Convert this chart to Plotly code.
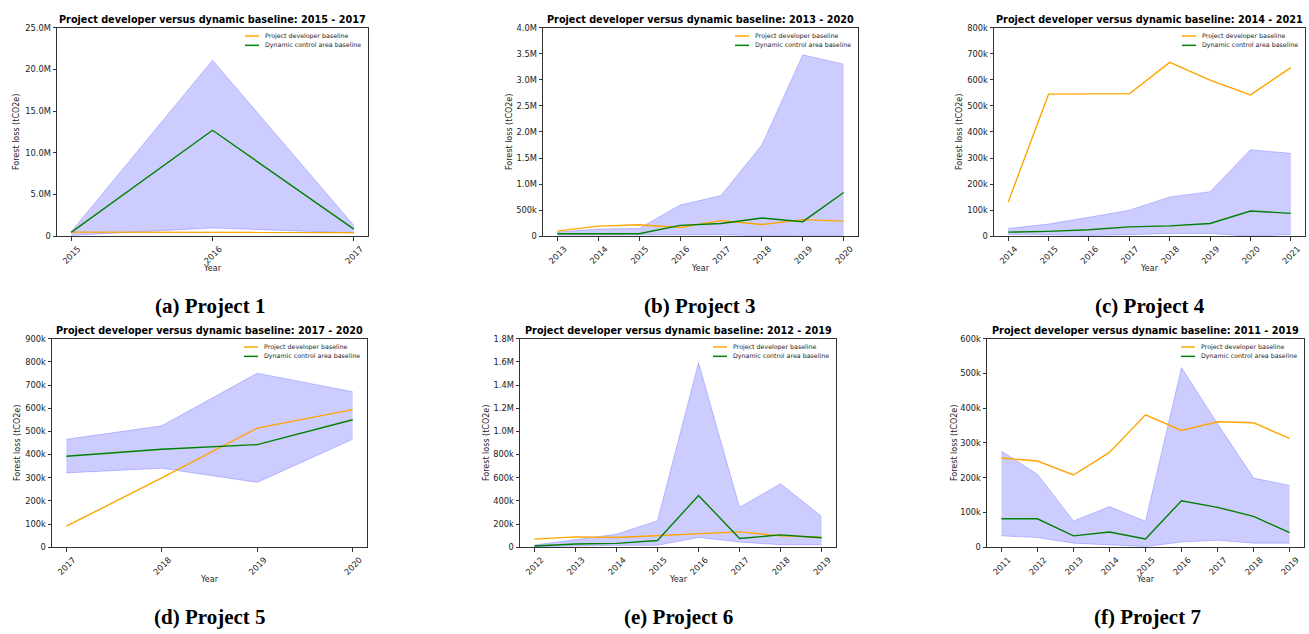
import plotly.graph_objects as go

W, H = 1309, 634

# ---------------- data ----------------
p1_years = [2015, 2016, 2017]
p1_dev = [500e3, 500e3, 450e3]
p1_dyn = [470e3, 12.7e6, 860e3]
p1_hi = [550e3, 21.1e6, 1.3e6]
p1_lo = [100e3, 1.0e6, 400e3]

p3_years = [2013, 2014, 2015, 2016, 2017, 2018, 2019, 2020]
p3_dev = [100e3, 195e3, 220e3, 170e3, 300e3, 225e3, 320e3, 290e3]
p3_dyn = [50e3, 55e3, 50e3, 210e3, 245e3, 350e3, 280e3, 840e3]
p3_hi = [80e3, 140e3, 150e3, 600e3, 780e3, 1.75e6, 3.48e6, 3.3e6]
p3_lo = [20e3, 20e3, 20e3, 30e3, 30e3, 10e3, 0, 20e3]

p4_years = [2014, 2015, 2016, 2017, 2018, 2019, 2020, 2021]
p4_dev = [131e3, 545e3, 546e3, 546e3, 667e3, 599e3, 542e3, 647e3]
p4_dyn = [16e3, 19e3, 25e3, 36e3, 40e3, 49e3, 97e3, 88e3]
p4_hi = [30e3, 47e3, 73e3, 100e3, 151e3, 171e3, 332e3, 318e3]
p4_lo = [7e3, 4e3, 3e3, 6e3, 11e3, 11e3, 0, 7e3]

p5_years = [2017, 2018, 2019, 2020]
p5_dev = [91e3, 299e3, 514e3, 594e3]
p5_dyn = [393e3, 423e3, 443e3, 550e3]
p5_hi = [466e3, 524e3, 751e3, 671e3]
p5_lo = [321e3, 341e3, 280e3, 466e3]

p6_years = [2012, 2013, 2014, 2015, 2016, 2017, 2018, 2019]
p6_dev = [71e3, 90e3, 85e3, 102e3, 119e3, 133e3, 99e3, 88e3]
p6_dyn = [11e3, 28e3, 34e3, 59e3, 447e3, 76e3, 107e3, 82e3]
p6_hi = [20e3, 68e3, 113e3, 229e3, 1593e3, 345e3, 549e3, 266e3]
p6_lo = [5e3, 14e3, 17e3, 17e3, 85e3, 45e3, 22e3, 22e3]

p7_years = [2011, 2012, 2013, 2014, 2015, 2016, 2017, 2018, 2019]
p7_dev = [257e3, 248e3, 208e3, 273e3, 381e3, 336e3, 361e3, 358e3, 313e3]
p7_dyn = [82e3, 82e3, 33e3, 44e3, 24e3, 134e3, 115e3, 89e3, 42e3]
p7_hi = [277e3, 210e3, 76e3, 117e3, 75e3, 517e3, 355e3, 199e3, 178e3]
p7_lo = [33e3, 28e3, 12e3, 8e3, 2e3, 15e3, 20e3, 12e3, 12e3]

captions = ["(a) Project 1", "(b) Project 3", "(c) Project 4",
            "(d) Project 5", "(e) Project 6", "(f) Project 7"]
y_max = [25e6, 4e6, 800e3, 900e3, 1.8e6, 600e3]
y_step = [5e6, 500e3, 100e3, 100e3, 200e3, 100e3]

projects = [
    (p1_years, p1_dev, p1_dyn, p1_hi, p1_lo),
    (p3_years, p3_dev, p3_dyn, p3_hi, p3_lo),
    (p4_years, p4_dev, p4_dyn, p4_hi, p4_lo),
    (p5_years, p5_dev, p5_dyn, p5_hi, p5_lo),
    (p6_years, p6_dev, p6_dyn, p6_hi, p6_lo),
    (p7_years, p7_dev, p7_dyn, p7_hi, p7_lo),
]

# ---------------- layout (pixels: left, right, top, bottom) ----------------
boxes = [
    (57, 368, 23, 235),
    (543, 858, 23, 235),
    (994, 1305, 23, 235),
    (52, 367, 339, 551),
    (520, 836, 339, 551),
    (987, 1304, 339, 551),
]
caption_pos = [(210, 306), (700, 306), (1150, 306), (210, 622), (678, 622), (1147, 622)]
ylabel_off = [40, 33, 34, 34, 33, 32]


def fx(p):
    return p / W


def fy(p):
    return 1 - p / H


def fmt(v):
    if v == 0:
        return "0"
    if v >= 1e6:
        return f"{v / 1e6:.1f}M"
    return f"{v / 1e3:.0f}k"


ORANGE = "#FFA500"
GREEN = "#008000"
BAND = "rgba(0,0,255,0.2)"
TXT = "#222222"
FONT = "DejaVu Sans"

fig = go.Figure()
layout = dict(
    width=W, height=H, margin=dict(l=0, r=0, t=0, b=0),
    paper_bgcolor="white", plot_bgcolor="white", showlegend=False,
    font=dict(family=FONT, color=TXT),
)
annotations = []
shapes = []

for i, (years, dev, dyn, hi, lo) in enumerate(projects):
    n = i + 1
    xa = "x" if n == 1 else f"x{n}"
    ya = "y" if n == 1 else f"y{n}"
    L, R, T, B = boxes[i]

    fig.add_trace(go.Scatter(x=years, y=lo, xaxis=xa, yaxis=ya, mode="lines",
                             line=dict(color=BAND, width=1), hoverinfo="skip"))
    fig.add_trace(go.Scatter(x=years, y=hi, xaxis=xa, yaxis=ya, mode="lines",
                             line=dict(color=BAND, width=1), fill="tonexty",
                             fillcolor=BAND, hoverinfo="skip"))
    fig.add_trace(go.Scatter(x=years, y=dev, xaxis=xa, yaxis=ya, mode="lines",
                             line=dict(color=ORANGE, width=1.4),
                             name="Project developer baseline"))
    fig.add_trace(go.Scatter(x=years, y=dyn, xaxis=xa, yaxis=ya, mode="lines",
                             line=dict(color=GREEN, width=1.4),
                             name="Dynamic control area baseline"))

    span = years[-1] - years[0]
    yt = []
    v = 0
    while v <= y_max[i] + 1:
        yt.append(v)
        v += y_step[i]

    axis_common = dict(showline=True, mirror=True, linecolor="#333333", linewidth=1,
                       ticks="outside", ticklen=3.5, tickwidth=0.8, tickcolor="#333333",
                       showgrid=False, zeroline=False,
                       tickfont=dict(size=8.3, color=TXT, family=FONT))
    layout["xaxis" if n == 1 else f"xaxis{n}"] = dict(
        domain=[fx(L), fx(R)], anchor=ya,
        range=[years[0] - 0.05 * span, years[-1] + 0.05 * span],
        tickvals=years, ticktext=[str(y) for y in years], tickangle=-45,
        ticklabelshift=7, **axis_common)
    layout["yaxis" if n == 1 else f"yaxis{n}"] = dict(
        domain=[fy(B), fy(T)], anchor=xa, range=[0, y_max[i]],
        tickvals=yt, ticktext=[fmt(t) for t in yt], **axis_common)

    cx = (L + R) / 2
    # title
    annotations.append(dict(
        x=fx(cx), y=fy(T - 8), xref="paper", yref="paper", showarrow=False,
        text=f"<b>Project developer versus dynamic baseline: {years[0]} - {years[-1]}</b>",
        font=dict(size=9.7, color="black", family=FONT), xanchor="center", yanchor="middle"))
    # x label
    annotations.append(dict(
        x=fx(cx), y=fy(B + 33), xref="paper", yref="paper", showarrow=False,
        text="Year", font=dict(size=8, color=TXT, family=FONT),
        xanchor="center", yanchor="middle"))
    # y label
    annotations.append(dict(
        x=fx(L - ylabel_off[i]), y=fy((T + B) / 2), xref="paper", yref="paper",
        showarrow=False, text="Forest loss (tCO2e)", textangle=-90,
        font=dict(size=8, color=TXT, family=FONT), xanchor="center", yanchor="middle"))
    # caption
    cpx, cpy = caption_pos[i]
    annotations.append(dict(
        x=fx(cpx), y=fy(cpy), xref="paper", yref="paper", showarrow=False,
        text=f"<b>{captions[i]}</b>",
        font=dict(size=21, color="black", family="Liberation Serif"),
        xanchor="center", yanchor="middle"))
    # legend
    for k, (lbl, col) in enumerate([("Project developer baseline", ORANGE),
                                    ("Dynamic control area baseline", GREEN)]):
        ly = T + 8.5 + 9.5 * k
        shapes.append(dict(type="line", xref="paper", yref="paper",
                           x0=fx(R - 123), x1=fx(R - 109), y0=fy(ly), y1=fy(ly),
                           line=dict(color=col, width=1.5)))
        annotations.append(dict(
            x=fx(R - 105), y=fy(ly), xref="paper", yref="paper", showarrow=False,
            text=lbl, font=dict(size=6.3, color=TXT, family=FONT),
            xanchor="left", yanchor="middle"))

layout["annotations"] = annotations
layout["shapes"] = shapes
fig.update_layout(**layout)
fig.write_html("out.html", config={"displayModeBar": False},
               post_script="document.body.style.margin='0';")
